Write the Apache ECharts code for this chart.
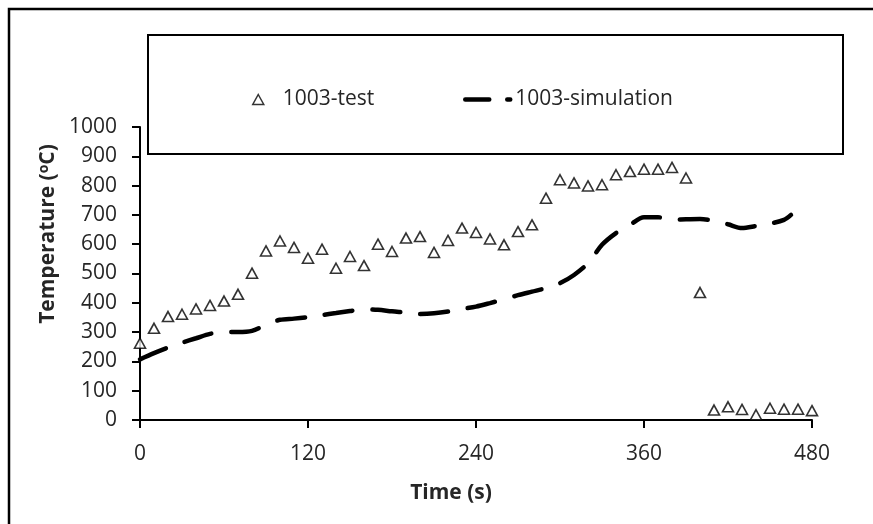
<!DOCTYPE html>
<html>
<head>
<meta charset="utf-8">
<script src="https://cdn.jsdelivr.net/npm/echarts@6/dist/echarts.min.js"></script>
<style>html,body{margin:0;padding:0;background:#fff}#c{width:873px;height:524px}</style>
</head>
<body>
<div id="c"></div>
<script>
const testTimes = [0,10,20,30,40,50,60,70,80,90,100,110,120,130,140,150,160,170,180,190,200,210,220,230,240,250,260,270,280,290,300,310,320,330,340,350,360,370,380,390,400,410,420,430,440,450,460,470,480];
const testValues = [262,313,353,361,379,391,406,429,501,577,611,589,552,583,518,558,527,600,575,621,626,572,613,655,640,618,598,643,666,757,820,809,799,803,837,848,856,856,862,826,435,34,45,36,18,40,37,37,32];
const simTimes = [0,10,20,30,40,50,60,70,80,90,100,110,120,130,140,150,160,170,180,190,200,210,220,230,240,250,260,270,280,290,300,310,320,330,340,350,360,370,380,390,400,410,420,430,440,450,460,465];
const simValues = [207,228,247,264,279,294,300,300,304,325,342,346,351,358,365,372,378,376,371,367,362,364,370,379,387,399,412,426,438,450,467,495,535,598,638,666,692,692,683,685,686,680,668,655,662,670,683,700];
const xTicks = [0,120,240,360,480];
const yTicks = [0,100,200,300,400,500,600,700,800,900,1000];
const testName = '1003-test';
const simName = '1003-simulation';
const xTitle = 'Time (s)';

const FONT = 'Open Sans';
const TXT = '#262626';
const chart = echarts.init(document.getElementById('c'), null, {renderer:'canvas'});
chart.setOption({
  animation: false,
  backgroundColor: '#fff',
  grid: {left: 140, right: 61, top: 127, bottom: 104, containLabel: false},
  xAxis: {
    type: 'value', min: xTicks[0], max: xTicks[xTicks.length-1], interval: xTicks[1]-xTicks[0],
    axisLine: {show: true, onZero: false, lineStyle: {color: '#000', width: 2}},
    axisTick: {show: true, inside: false, length: 8, lineStyle: {color: '#000', width: 2}},
    axisLabel: {color: TXT, fontFamily: FONT, fontSize: 21, margin: 24, formatter: v => String(v)},
    splitLine: {show: false}
  },
  yAxis: {
    type: 'value', min: yTicks[0], max: yTicks[yTicks.length-1], interval: yTicks[1]-yTicks[0],
    axisLine: {show: true, lineStyle: {color: '#000', width: 2}},
    axisTick: {show: true, inside: false, length: 8, lineStyle: {color: '#000', width: 2}},
    axisLabel: {color: TXT, fontFamily: FONT, fontSize: 21, margin: 23, formatter: v => String(v)},
    splitLine: {show: false}
  },
  legend: [
    {
      data: [{name: testName, icon: 'triangle'}], left: 247, top: 84, itemWidth: 11, itemHeight: 10,
      itemStyle: {color: '#fff', borderColor: '#000', borderWidth: 1.5},
      textStyle: {color: TXT, fontFamily: FONT, fontSize: 21, padding: [0, 0, 0, 14]}
    },
    {
      data: [simName], left: 458, top: 84, itemWidth: 45, itemHeight: 11,
      itemStyle: {opacity: 0},
      lineStyle: {color: '#000', width: 4.5, type: [24, 18], cap: 'round'},
      textStyle: {color: TXT, fontFamily: FONT, fontSize: 21}
    }
  ],
  graphic: [
    {type: 'rect', shape: {x: 9, y: 9, width: 1000, height: 1000}, style: {fill: 'none', stroke: '#000', lineWidth: 2.5}, silent: true, z: 0},
    {type: 'rect', shape: {x: 148, y: 35, width: 695, height: 119}, style: {fill: 'none', stroke: '#000', lineWidth: 2}, silent: true, z: 0},
    {type: 'text', x: 48, y: 234, rotation: Math.PI/2,
      style: {text: 'Temperature ({s|o}C)', fill: TXT, font: 'bold 21px "Open Sans"', align: 'center', verticalAlign: 'middle',
        rich: {s: {fontSize: 14, fontWeight: 'bold', fontFamily: FONT, fill: TXT, verticalAlign: 'top', padding: [0,0,8,0]}}}},
    {type: 'text', x: 451, y: 493, style: {text: xTitle, fill: TXT, font: 'bold 21px "Open Sans"', align: 'center', verticalAlign: 'middle'}}
  ],
  series: [
    {
      name: testName, type: 'scatter', symbol: 'triangle', symbolSize: [11, 10],
      itemStyle: {color: '#fff', borderColor: '#000', borderWidth: 1.6},
      data: testTimes.map((t, i) => [t, testValues[i]]), z: 3
    },
    {
      name: simName, type: 'line', symbol: 'none', smooth: 0.3,
      lineStyle: {color: '#000', width: 4.5, type: [28, 20], cap: 'round'},
      itemStyle: {color: '#000'},
      data: simTimes.map((t, i) => [t, simValues[i]]), z: 2
    }
  ]
});
</script>
</body>
</html>
